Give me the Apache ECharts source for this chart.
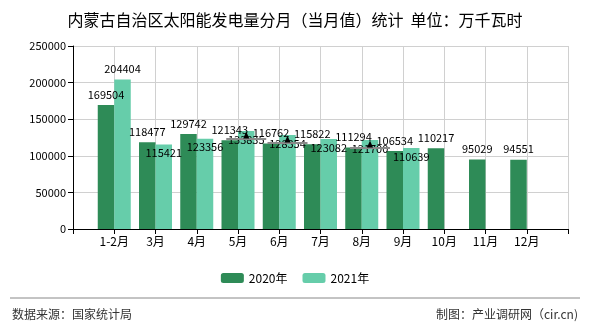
<!DOCTYPE html>
<html><head><meta charset="utf-8">
<script src="https://cdn.jsdelivr.net/npm/echarts@6/dist/echarts.min.js"></script>
<style>html,body{margin:0;padding:0;background:#fff}#c{width:590px;height:330px}</style>
</head><body><div id="c"></div>
<script>
var months = ['1-2月','3月','4月','5月','6月','7月','8月','9月','10月','11月','12月'];
var values2020 = [169504,118477,129742,121343,116762,115822,111294,106534,110217,95029,94551];
var values2021 = [204404,115421,123356,133835,128354,123082,121700,110639];
var seriesNames = ['2020年','2021年'];
var yTicks = [0,50000,100000,150000,200000,250000];
var markerMonths = ['5月','6月','8月'];

var FONT = '"Noto Sans CJK SC", "Noto Sans", sans-serif';
var yMax = yTicks[yTicks.length-1];
var plotH = 183;
var cats = [''].concat(months).concat(['']);
function pad(arr){
  var out = ['-'];
  for (var i=0;i<months.length;i++) out.push(i<arr.length ? arr[i] : '-');
  out.push('-');
  return out;
}
var d2020 = pad(values2020);
var d2021 = pad(values2021).map(function(v,i){
  if (v === '-') return v;
  var other = d2020[i];
  var close = other !== '-' && Math.abs(v-other)*plotH/yMax < 14;
  if (close) return {value:v, label:{position:'insideTop', distance:3}};
  return v;
});
var markers = [];
markerMonths.forEach(function(m){
  var idx = months.indexOf(m);
  var v = values2021[idx];
  markers.push({coord:[m, v], symbol:'rect', symbolSize:[40,2], symbolOffset:[0,8], itemStyle:{color:'#8a8a8a'}});
  markers.push({coord:[m, v], symbol:'triangle', symbolSize:[6,7], symbolOffset:[0,4], itemStyle:{color:'#000'}});
});

var chart = echarts.init(document.getElementById('c'), null, {renderer:'canvas'});
chart.setOption({
  animation:false,
  textStyle:{fontFamily:FONT},
  title:{text:'内蒙古自治区太阳能发电量分月（当月值）统计  单位：万千瓦时', left:'center', top:7,
    textStyle:{fontFamily:FONT, fontSize:16, fontWeight:'normal', color:'#000'}},
  legend:{data:seriesNames, top:267, left:'center', itemWidth:23, itemHeight:10, itemGap:15,
    textStyle:{fontFamily:FONT, fontSize:12, color:'#000'}},
  grid:{left:73, right:22, top:46, bottom:101},
  xAxis:{type:'category', data:cats, boundaryGap:false,
    axisLine:{lineStyle:{color:'#000', width:1}},
    axisTick:{show:true, length:5, lineStyle:{color:'#000'}},
    axisLabel:{color:'#000', fontSize:12, fontFamily:FONT, margin:6, interval:0},
    splitLine:{show:true, lineStyle:{color:'#d0d0d0'}}},
  yAxis:{type:'value', min:0, max:yMax, interval:yTicks[1]-yTicks[0],
    axisLine:{show:true, lineStyle:{color:'#000'}},
    axisTick:{show:true, length:5, lineStyle:{color:'#000'}},
    axisLabel:{color:'#000', fontSize:11, fontFamily:FONT, margin:7,
      formatter:function(v){return String(v);}},
    splitLine:{show:true, lineStyle:{color:'#d0d0d0'}}},
  series:[
    {name:seriesNames[0], type:'bar', data:d2020, barWidth:16.5, barGap:'0%',
      itemStyle:{color:'#2e8b57'},
      label:{show:true, position:'top', distance:5, color:'#000', fontSize:11, fontFamily:FONT}},
    {name:seriesNames[1], type:'bar', data:d2021, barWidth:16.5, barGap:'0%',
      itemStyle:{color:'#66cdaa'},
      label:{show:true, position:'top', distance:5, color:'#000', fontSize:11, fontFamily:FONT},
      markPoint:{data:markers, label:{show:false}, silent:true}}
  ],
  graphic:[
    {type:'line', shape:{x1:10, y1:298, x2:580, y2:298}, style:{stroke:'#888', lineWidth:1}},
    {type:'text', left:12, top:308, style:{text:'数据来源：国家统计局', fontSize:12, fontFamily:FONT, fill:'#333'}},
    {type:'text', right:12, top:308, style:{text:'制图：产业调研网（cir.cn)', fontSize:12, fontFamily:FONT, fill:'#333'}}
  ]
});
</script></body></html>
